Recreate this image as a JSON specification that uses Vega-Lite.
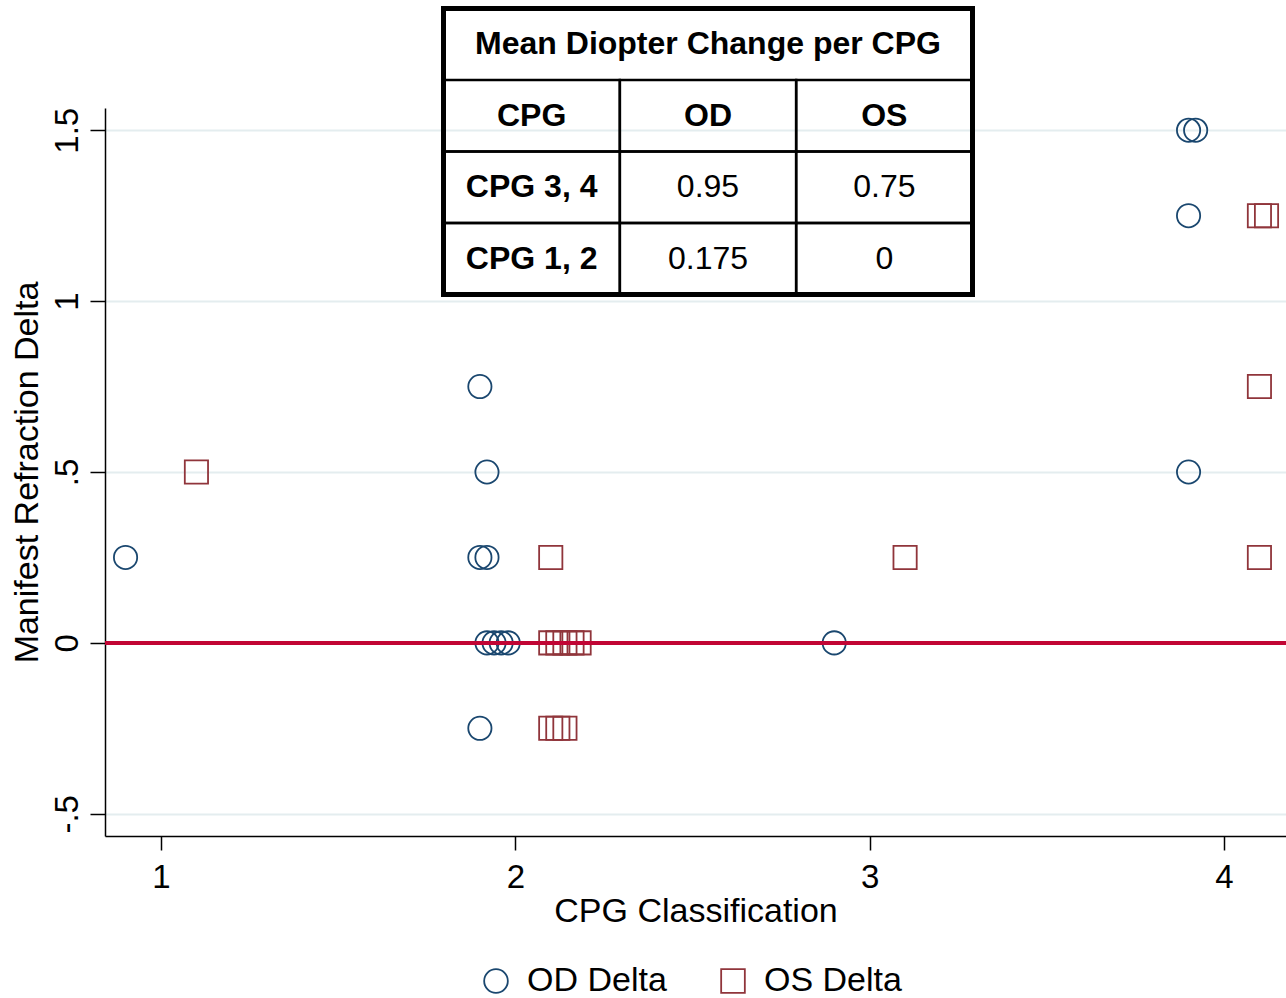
{
  "$schema": "https://vega.github.io/schema/vega-lite/v6.json",
  "width": 1181,
  "height": 728,
  "autosize": {"type": "none"},
  "padding": {"left": 105, "top": 108, "right": 0, "bottom": 162},
  "background": "white",
  "config": {
    "view": {"stroke": null},
    "font": "Liberation Sans"
  },
  "datasets": {
    "points": [
      {"cpg": 0.9, "delta": 0.25, "series": "OD Delta"},
      {"cpg": 1.9, "delta": 0.75, "series": "OD Delta"},
      {"cpg": 1.92, "delta": 0.5, "series": "OD Delta"},
      {"cpg": 1.9, "delta": 0.25, "series": "OD Delta"},
      {"cpg": 1.92, "delta": 0.25, "series": "OD Delta"},
      {"cpg": 1.92, "delta": 0, "series": "OD Delta"},
      {"cpg": 1.94, "delta": 0, "series": "OD Delta"},
      {"cpg": 1.96, "delta": 0, "series": "OD Delta"},
      {"cpg": 1.98, "delta": 0, "series": "OD Delta"},
      {"cpg": 1.9, "delta": -0.25, "series": "OD Delta"},
      {"cpg": 2.9, "delta": 0, "series": "OD Delta"},
      {"cpg": 3.9, "delta": 1.5, "series": "OD Delta"},
      {"cpg": 3.92, "delta": 1.5, "series": "OD Delta"},
      {"cpg": 3.9, "delta": 1.25, "series": "OD Delta"},
      {"cpg": 3.9, "delta": 0.5, "series": "OD Delta"},
      {"cpg": 1.1, "delta": 0.5, "series": "OS Delta"},
      {"cpg": 2.1, "delta": 0.25, "series": "OS Delta"},
      {"cpg": 2.1, "delta": 0, "series": "OS Delta"},
      {"cpg": 2.12, "delta": 0, "series": "OS Delta"},
      {"cpg": 2.14, "delta": 0, "series": "OS Delta"},
      {"cpg": 2.16, "delta": 0, "series": "OS Delta"},
      {"cpg": 2.18, "delta": 0, "series": "OS Delta"},
      {"cpg": 2.1, "delta": -0.25, "series": "OS Delta"},
      {"cpg": 2.12, "delta": -0.25, "series": "OS Delta"},
      {"cpg": 2.14, "delta": -0.25, "series": "OS Delta"},
      {"cpg": 3.1, "delta": 0.25, "series": "OS Delta"},
      {"cpg": 4.1, "delta": 1.25, "series": "OS Delta"},
      {"cpg": 4.12, "delta": 1.25, "series": "OS Delta"},
      {"cpg": 4.1, "delta": 0.75, "series": "OS Delta"},
      {"cpg": 4.1, "delta": 0.25, "series": "OS Delta"}
    ],
    "table": [
      {"row": "title", "col": "all", "text": "Mean Diopter Change per CPG"},
      {"row": "header", "col": "CPG", "text": "CPG"},
      {"row": "header", "col": "OD", "text": "OD"},
      {"row": "header", "col": "OS", "text": "OS"},
      {"row": "r1", "col": "CPG", "text": "CPG 3, 4"},
      {"row": "r1", "col": "OD", "text": "0.95"},
      {"row": "r1", "col": "OS", "text": "0.75"},
      {"row": "r2", "col": "CPG", "text": "CPG 1, 2"},
      {"row": "r2", "col": "OD", "text": "0.175"},
      {"row": "r2", "col": "OS", "text": "0"}
    ]
  },
  "layer": [
    {
      "data": {"name": "points"},
      "layer": [
        {
          "mark": {"type": "point", "filled": false, "strokeWidth": 1.8, "opacity": 1, "size": 540},
          "encoding": {
            "x": {
              "field": "cpg", "type": "quantitative",
              "scale": {"domain": [0.842, 4.175], "nice": false, "zero": false},
              "axis": {
                "title": "CPG Classification", "titleFontSize": 34, "titleFontWeight": "normal",
                "titleColor": "black", "titlePadding": 0, "titleFont": "Liberation Sans",
                "values": [1, 2, 3, 4], "format": "d",
                "labelFontSize": 33, "labelColor": "black", "labelPadding": 11, "labelFont": "Liberation Sans",
                "tickSize": 14, "tickColor": "black", "tickWidth": 1.5,
                "domainColor": "black", "domainWidth": 1.5, "grid": false
              }
            },
            "y": {
              "field": "delta", "type": "quantitative",
              "scale": {"domain": [-0.565, 1.565], "nice": false, "zero": false},
              "axis": {
                "title": "Manifest Refraction Delta", "titleFontSize": 34, "titleFontWeight": "normal",
                "titleColor": "black", "titlePadding": 7, "titleFont": "Liberation Sans",
                "values": [-0.5, 0, 0.5, 1, 1.5],
                "labelExpr": "datum.value == -0.5 ? '-.5' : datum.value == 0.5 ? '.5' : datum.value == 0 ? '0' : datum.value == 1 ? '1' : '1.5'",
                "labelAngle": -90, "labelFontSize": 33, "labelColor": "black", "labelPadding": 6, "labelFont": "Liberation Sans",
                "tickSize": 15, "tickColor": "black", "tickWidth": 1.5,
                "domainColor": "black", "domainWidth": 1.5,
                "grid": true, "gridColor": "#e4edef", "gridWidth": 2
              }
            },
            "shape": {
              "field": "series", "type": "nominal",
              "scale": {"domain": ["OD Delta", "OS Delta"], "range": ["circle", "square"]},
              "legend": {
                "orient": "none", "legendX": 374, "legendY": 856, "direction": "horizontal", "title": null,
                "labelFontSize": 34, "labelColor": "black", "labelFont": "Liberation Sans",
                "symbolSize": 560, "symbolStrokeWidth": 1.8, "labelOffset": 14,
                "columnPadding": 49
              }
            },
            "color": {
              "field": "series", "type": "nominal",
              "scale": {"domain": ["OD Delta", "OS Delta"], "range": ["#1a476f", "#90353b"]},
              "legend": {
                "orient": "none", "legendX": 374, "legendY": 856, "direction": "horizontal", "title": null,
                "labelFontSize": 34, "labelColor": "black", "labelFont": "Liberation Sans",
                "symbolSize": 560, "symbolStrokeWidth": 1.8, "labelOffset": 14,
                "columnPadding": 49
              }
            }
          }
        },
        {
          "mark": {"type": "rule", "color": "#c10534", "strokeWidth": 3},
          "encoding": {"y": {"datum": 0, "type": "quantitative"}}
        }
      ]
    },
    {
      "data": {"name": "table"},
      "layer": [
        {
          "transform": [{"filter": "datum.row == 'title'"}],
          "mark": {"type": "rect", "fill": null, "stroke": "black", "strokeWidth": 5},
          "encoding": {
            "x": {
              "datum": "CPG", "type": "ordinal", "bandPosition": 0,
              "scale": {"type": "band", "domain": ["CPG", "OD", "OS"], "range": [338.5, 867.5], "paddingInner": 0, "paddingOuter": 0},
              "axis": null
            },
            "x2": {"datum": "OS", "bandPosition": 1},
            "y": {
              "datum": "title", "type": "ordinal", "bandPosition": 0,
              "scale": {"type": "band", "domain": ["title", "header", "r1", "r2"], "range": [-99.5, 186.5], "paddingInner": 0, "paddingOuter": 0},
              "axis": null
            },
            "y2": {"datum": "r2", "bandPosition": 1}
          }
        },
        {
          "transform": [{"filter": "datum.row != 'title'"}],
          "mark": {"type": "rect", "fill": null, "stroke": "black", "strokeWidth": 2.5},
          "encoding": {
            "x": {"field": "col", "type": "ordinal"},
            "y": {"field": "row", "type": "ordinal"}
          }
        },
        {
          "transform": [{"filter": "datum.row == 'title'"}],
          "mark": {"type": "text", "fontSize": 32, "fontWeight": "bold", "color": "black", "align": "center", "baseline": "middle"},
          "encoding": {
            "x": {"datum": "OD", "type": "ordinal", "bandPosition": 0.5},
            "y": {"field": "row", "type": "ordinal", "bandPosition": 0.5},
            "text": {"field": "text"}
          }
        },
        {
          "transform": [{"filter": "datum.row == 'header' || (datum.row != 'title' && datum.col == 'CPG')"}],
          "mark": {"type": "text", "fontSize": 32, "fontWeight": "bold", "color": "black", "align": "center", "baseline": "middle"},
          "encoding": {
            "x": {"field": "col", "type": "ordinal", "bandPosition": 0.5},
            "y": {"field": "row", "type": "ordinal", "bandPosition": 0.5},
            "text": {"field": "text"}
          }
        },
        {
          "transform": [{"filter": "(datum.row == 'r1' || datum.row == 'r2') && datum.col != 'CPG'"}],
          "mark": {"type": "text", "fontSize": 32, "fontWeight": "normal", "color": "black", "align": "center", "baseline": "middle"},
          "encoding": {
            "x": {"field": "col", "type": "ordinal", "bandPosition": 0.5},
            "y": {"field": "row", "type": "ordinal", "bandPosition": 0.5},
            "text": {"field": "text"}
          }
        }
      ]
    }
  ],
  "resolve": {"scale": {"x": "independent", "y": "independent"}}
}
